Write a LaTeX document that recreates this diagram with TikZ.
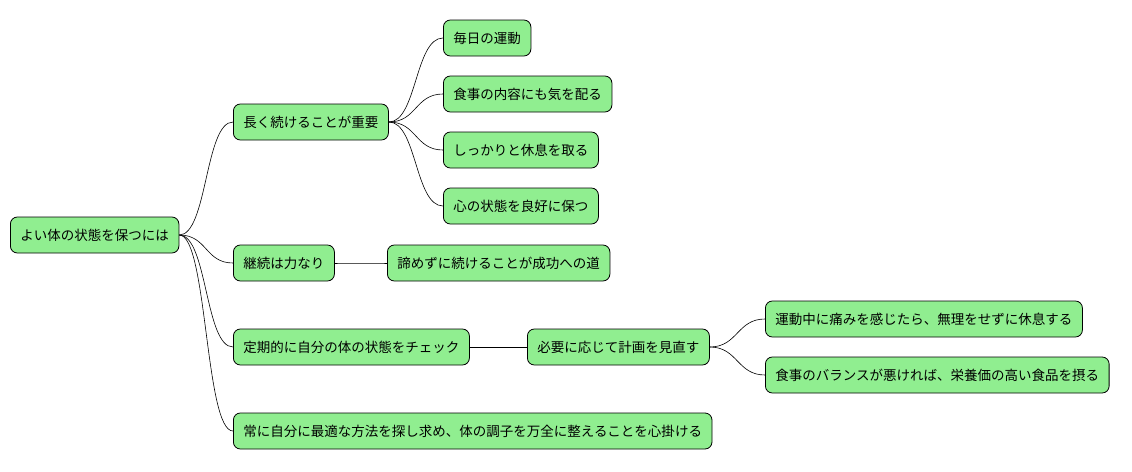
\documentclass[tikz,border=0pt]{standalone}
\usepackage{fontspec}
\newfontfamily\jp{Noto Sans CJK JP}
\begin{document}
\begin{tikzpicture}[x=1pt,y=-1pt,
  n/.style={draw=black,fill={rgb,255:red,144;green,238;blue,144},rounded corners=7pt,
    minimum height=36pt,inner xsep=10pt,anchor=west,font=\jp\fontsize{13.5}{14}\selectfont,line width=0.8pt},
  e/.style={draw=black,line width=0.6pt}]
\useasboundingbox (0,0) rectangle (1132,471);
\node[n] (r) at (10,235) {よい体の状態を保つには};
\node[n] (a) at (233,122) {長く続けることが重要};
\node[n] (a1) at (443,38) {毎日の運動};
\node[n] (a2) at (443,94) {食事の内容にも気を配る};
\node[n] (a3) at (443,150) {しっかりと休息を取る};
\node[n] (a4) at (443,206) {心の状態を良好に保つ};
\node[n] (b) at (233,263) {継続は力なり};
\node[n] (b1) at (387,263) {諦めずに続けることが成功への道};
\node[n] (c) at (233,347) {定期的に自分の体の状態をチェック};
\node[n] (c1) at (527,347) {必要に応じて計画を見直す};
\node[n] (c11) at (765,319) {運動中に痛みを感じたら、無理をせずに休息する};
\node[n] (c12) at (765,375) {食事のバランスが悪ければ、栄養価の高い食品を摂る};
\node[n] (d) at (233,431) {常に自分に最適な方法を探し求め、体の調子を万全に整えることを心掛ける};
\foreach \p/\c in {r/a,r/b,r/c,r/d,a/a1,a/a2,a/a3,a/a4,b/b1,c/c1,c1/c11,c1/c12}
  \draw[e] (\p.east) .. controls +(28,0) and +(-28,0) .. (\c.west);
\end{tikzpicture}
\end{document}
